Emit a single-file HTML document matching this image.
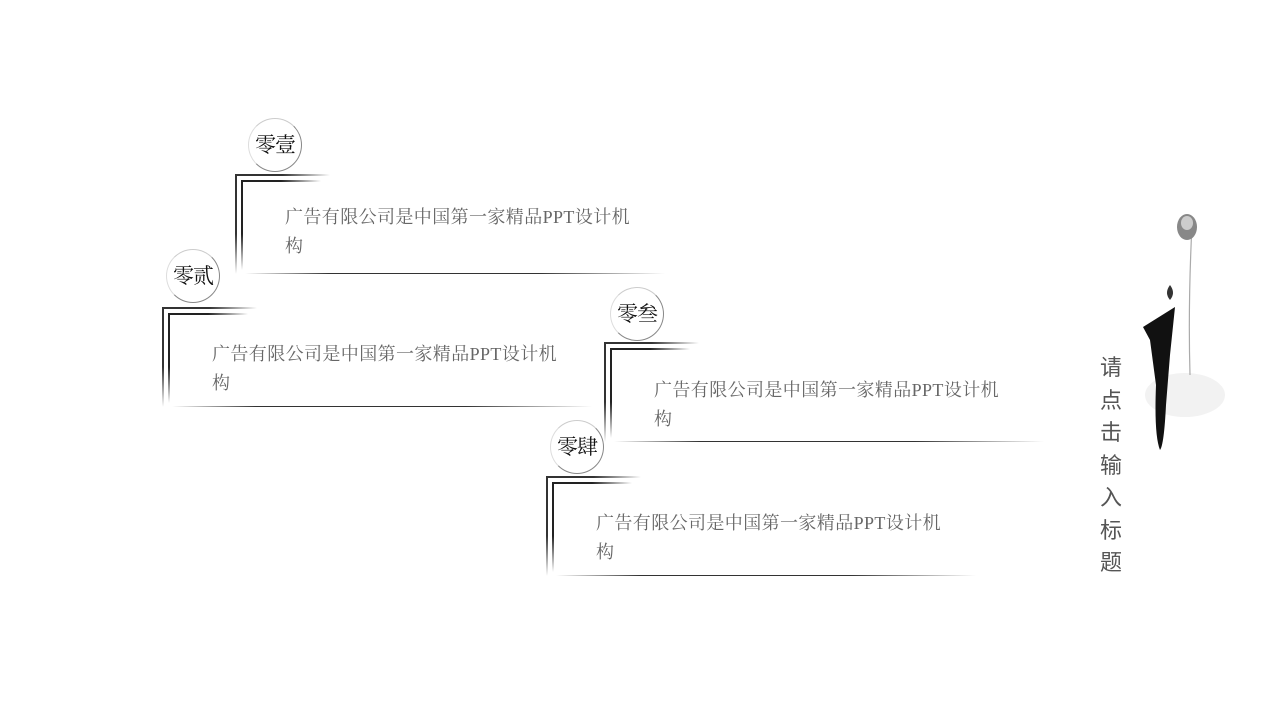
<!DOCTYPE html>
<html><head><meta charset="utf-8"><style>
body{margin:0;width:1280px;height:720px;background:#fff;position:relative;overflow:hidden;font-family:"Liberation Serif","Noto Serif CJK SC",serif}
.b{position:absolute;width:440px;height:110px}
.c{position:absolute;width:52px;height:52px;border-radius:50%;border:1px solid #888;border-left-color:#ddd;border-top-color:#ccc;font-size:21px;line-height:52px;text-align:center;color:#111;letter-spacing:-1px}
.v1{position:absolute;left:0;top:0;width:2px;height:100px;background:linear-gradient(#333,#333 60%,rgba(0,0,0,0))}
.h1{position:absolute;left:0;top:0;width:95px;height:2px;background:linear-gradient(90deg,#333,#333 50%,rgba(0,0,0,0))}
.v2{position:absolute;left:6px;top:6px;width:2px;height:90px;background:linear-gradient(#222,#222 60%,rgba(0,0,0,0))}
.h2{position:absolute;left:6px;top:6px;width:80px;height:2px;background:linear-gradient(90deg,#222,#222 50%,rgba(0,0,0,0))}
.bl{position:absolute;left:10px;top:99px;width:420px;height:1px;background:linear-gradient(90deg,rgba(0,0,0,0),#333 20%,#333 70%,rgba(0,0,0,0))}
.t{position:absolute;left:50px;top:29px;width:380px;font-size:18px;line-height:29px;color:#666;letter-spacing:0.4px;white-space:nowrap}
.vt{position:absolute;left:1100px;top:352px;width:24px;font-family:"Liberation Sans","Noto Sans CJK SC",sans-serif;font-size:22px;line-height:32.5px;color:#555}
</style></head><body>
<div class="b" style="left:235px;top:174px"><div class="c" style="left:13px;top:-56px">零壹</div><div class="v1"></div><div class="h1"></div><div class="v2"></div><div class="h2"></div><div class="t">广告有限公司是中国第一家精品PPT设计机<br>构</div><div class="bl"></div></div>
<div class="b" style="left:162px;top:307px"><div class="c" style="left:4px;top:-58px">零贰</div><div class="v1"></div><div class="h1"></div><div class="v2"></div><div class="h2"></div><div class="t" style="top:33px">广告有限公司是中国第一家精品PPT设计机<br>构</div><div class="bl"></div></div>
<div class="b" style="left:604px;top:342px"><div class="c" style="left:6px;top:-55px">零叁</div><div class="v1"></div><div class="h1"></div><div class="v2"></div><div class="h2"></div><div class="t" style="top:34px">广告有限公司是中国第一家精品PPT设计机<br>构</div><div class="bl" style="width:430px"></div></div>
<div class="b" style="left:546px;top:476px"><div class="c" style="left:4px;top:-56px">零肆</div><div class="v1"></div><div class="h1"></div><div class="v2"></div><div class="h2"></div><div class="t" style="top:33px">广告有限公司是中国第一家精品PPT设计机<br>构</div><div class="bl"></div></div>
<div class="vt">请点击输入标题</div>
<svg style="position:absolute;left:1130px;top:205px" width="100" height="250">
<ellipse cx="55" cy="190" rx="40" ry="22" fill="#f2f2f2"/>
<path d="M62 20 Q58 100 60 170" stroke="#aaa" stroke-width="1.2" fill="none"/>
<ellipse cx="57" cy="22" rx="10" ry="13" fill="#888"/>
<ellipse cx="57" cy="18" rx="6" ry="7" fill="#ccc"/>
<path d="M13 122 L45 102 L40 150 L36 200 Q34 240 30 245 Q24 230 26 180 L20 135 Z" fill="#111"/>
<path d="M40 80 Q46 88 40 95 Q34 88 40 80Z" fill="#333"/>
</svg>
</body></html>
